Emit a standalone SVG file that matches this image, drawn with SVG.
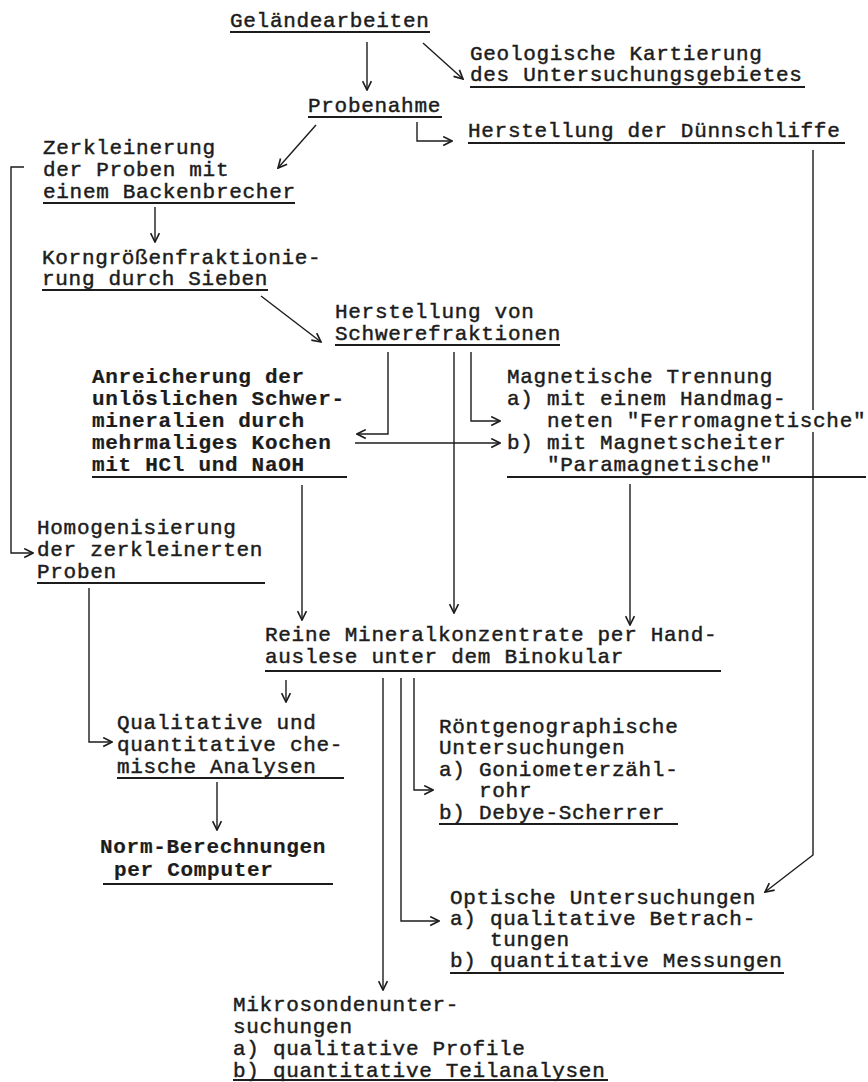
<svg xmlns="http://www.w3.org/2000/svg" width="868" height="1082" viewBox="0 0 868 1082">
<defs>
<style>
.t{font-family:"Liberation Mono","Courier New",monospace;font-size:21px;fill:#1c1c1c;stroke:#1c1c1c;stroke-width:0.45;letter-spacing:0.7px}
.b{font-weight:bold;stroke-width:0.2}
.u{stroke:#1c1c1c;stroke-width:2;fill:none}
.c{fill:none;stroke:#1c1c1c;stroke-width:1.4;marker-end:url(#ah)}
</style>
<marker id="ah" viewBox="0 0 10 10" refX="9" refY="5" markerWidth="11" markerHeight="11" markerUnits="userSpaceOnUse" orient="auto">
<path d="M1,1 L9,5 L1,9" fill="none" stroke="#1c1c1c" stroke-width="1.5"/>
</marker>
</defs>
<rect width="868" height="1082" fill="#ffffff"/>

<g id="gelaendearbeiten">
<text class="t" x="230" y="27">Geländearbeiten</text>
<line class="u" x1="230" y1="32" x2="430" y2="32"/>
</g>

<g id="geologische-kartierung">
<text class="t" x="470" y="60">Geologische Kartierung</text>
<text class="t" x="470" y="81">des Untersuchungsgebietes</text>
<line class="u" x1="470" y1="87" x2="805" y2="87"/>
</g>

<g id="probenahme">
<text class="t" x="308" y="112">Probenahme</text>
<line class="u" x1="308" y1="117" x2="442" y2="117"/>
</g>

<g id="duennschliffe">
<text class="t" x="468" y="137">Herstellung der Dünnschliffe</text>
<line class="u" x1="468" y1="143" x2="845" y2="143"/>
</g>

<g id="zerkleinerung">
<text class="t" x="43" y="154">Zerkleinerung</text>
<text class="t" x="43" y="176">der Proben mit</text>
<text class="t" x="43" y="198">einem Backenbrecher</text>
<line class="u" x1="43" y1="203" x2="295" y2="203"/>
</g>

<g id="korngroessen">
<text class="t" x="42" y="264">Korngrößenfraktionie-</text>
<text class="t" x="42" y="285">rung durch Sieben</text>
<line class="u" x1="42" y1="290" x2="268" y2="290"/>
</g>

<g id="schwerefraktionen">
<text class="t" x="335" y="318">Herstellung von</text>
<text class="t" x="335" y="340">Schwerefraktionen</text>
<line class="u" x1="335" y1="345" x2="560" y2="345"/>
</g>

<g id="anreicherung">
<text class="t b" x="92" y="383">Anreicherung der</text>
<text class="t b" x="92" y="405">unlöslichen Schwer-</text>
<text class="t b" x="92" y="427">mineralien durch</text>
<text class="t b" x="92" y="449">mehrmaliges Kochen</text>
<text class="t b" x="92" y="471">mit HCl und NaOH</text>
<line class="u" x1="92" y1="477" x2="347" y2="477"/>
</g>

<g id="magnetische-trennung">
<text class="t" x="507" y="383">Magnetische Trennung</text>
<text class="t" x="507" y="405">a) mit einem Handmag-</text>
<text class="t" x="547" y="427">neten "Ferromagnetische"</text>
<text class="t" x="507" y="449">b) mit Magnetscheiter</text>
<text class="t" x="547" y="471">"Paramagnetische"</text>
<line class="u" x1="507" y1="477" x2="866" y2="477"/>
</g>

<g id="homogenisierung">
<text class="t" x="37" y="534">Homogenisierung</text>
<text class="t" x="37" y="556">der zerkleinerten</text>
<text class="t" x="37" y="578">Proben</text>
<line class="u" x1="37" y1="583" x2="265" y2="583"/>
</g>

<g id="reine-mineralkonzentrate">
<text class="t" x="265" y="641">Reine Mineralkonzentrate per Hand-</text>
<text class="t" x="265" y="663">auslese unter dem Binokular</text>
<line class="u" x1="265" y1="671" x2="721" y2="671"/>
</g>

<g id="chemische-analysen">
<text class="t" x="117" y="729">Qualitative und</text>
<text class="t" x="117" y="751">quantitative che-</text>
<text class="t" x="117" y="773">mische Analysen</text>
<line class="u" x1="117" y1="778" x2="344" y2="778"/>
</g>

<g id="norm-berechnungen">
<text class="t b" x="100" y="853">Norm-Berechnungen</text>
<text class="t b" x="114" y="876">per Computer</text>
<line class="u" x1="103" y1="884" x2="333" y2="884"/>
</g>

<g id="roentgen">
<text class="t" x="439" y="733">Röntgenographische</text>
<text class="t" x="439" y="754">Untersuchungen</text>
<text class="t" x="439" y="776">a) Goniometerzähl-</text>
<text class="t" x="479" y="797">rohr</text>
<text class="t" x="439" y="819">b) Debye-Scherrer</text>
<line class="u" x1="439" y1="824" x2="678" y2="824"/>
</g>

<g id="optische">
<text class="t" x="450" y="904">Optische Untersuchungen</text>
<text class="t" x="450" y="925">a) qualitative Betrach-</text>
<text class="t" x="490" y="946">tungen</text>
<text class="t" x="450" y="967">b) quantitative Messungen</text>
<line class="u" x1="450" y1="973" x2="784" y2="973"/>
</g>

<g id="mikrosonde">
<text class="t" x="233" y="1011">Mikrosondenunter-</text>
<text class="t" x="233" y="1033">suchungen</text>
<text class="t" x="233" y="1055">a) qualitative Profile</text>
<text class="t" x="233" y="1077">b) quantitative Teilanalysen</text>
<line class="u" x1="233" y1="1080" x2="608" y2="1080"/>
</g>

<g id="connectors">
<path class="c" d="M367,42 V90"/>
<path class="c" d="M423,43 L463,79"/>
<path class="c" d="M417,122 V141 H452"/>
<path class="c" d="M316,125 L278,168"/>
<path class="c" d="M24,167 H11 V553 H33"/>
<path class="c" d="M155,207 V242"/>
<path class="c" d="M261,296 L321,342"/>
<path class="c" d="M388,352 V434 H357"/>
<path class="c" d="M454,352 V613"/>
<path class="c" d="M471,352 V421 H500"/>
<path class="c" d="M355,443 H500"/>
<path class="c" d="M302,485 V620"/>
<path class="c" d="M630,484 V625"/>
<path class="c" d="M813,150 V410 M813,432 V855 L765,892"/>
<path class="c" d="M89,588 V742 H112"/>
<path class="c" d="M286,680 V702"/>
<path class="c" d="M217,782 V830"/>
<path class="c" d="M414,678 V790 H433"/>
<path class="c" d="M401,678 V921 H439"/>
<path class="c" d="M383,678 V990"/>
</g>
</svg>
